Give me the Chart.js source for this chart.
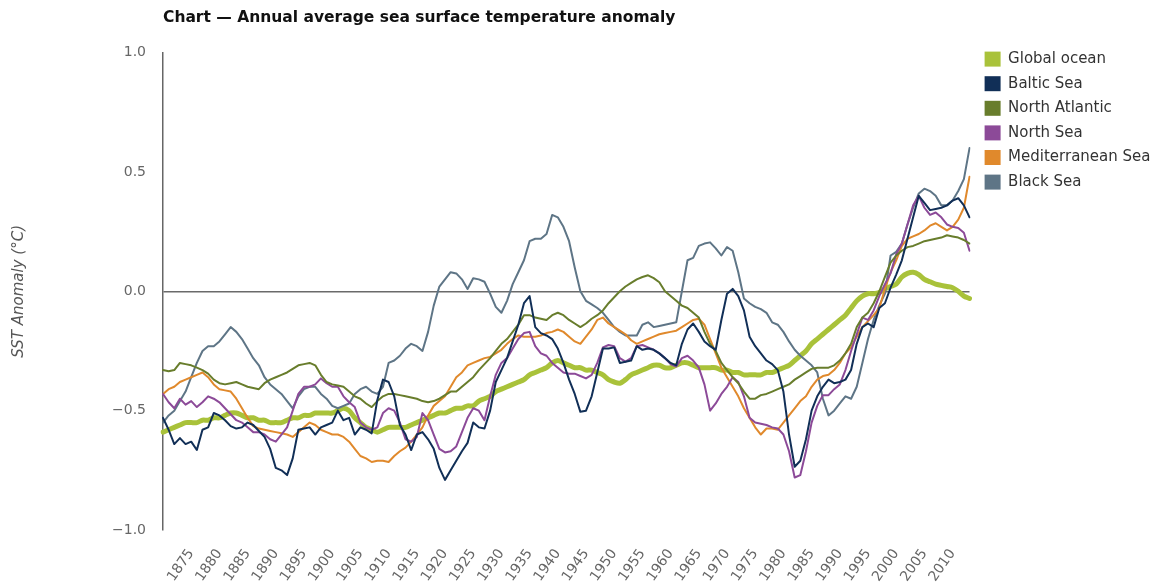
<!DOCTYPE html>
<html><head><meta charset="utf-8">
<script src="https://cdn.jsdelivr.net/npm/chart.js@4.4.0/dist/chart.umd.min.js"></script>
<style>html,body{margin:0;padding:0;background:#fff;}#wrap{position:relative;width:1157px;height:587px;}</style>
</head><body><div id="wrap"><canvas id="c" width="1157" height="587"></canvas></div>
<script>
const years = [1870,1871,1872,1873,1874,1875,1876,1877,1878,1879,1880,1881,1882,1883,1884,1885,1886,1887,1888,1889,1890,1891,1892,1893,1894,1895,1896,1897,1898,1899,1900,1901,1902,1903,1904,1905,1906,1907,1908,1909,1910,1911,1912,1913,1914,1915,1916,1917,1918,1919,1920,1921,1922,1923,1924,1925,1926,1927,1928,1929,1930,1931,1932,1933,1934,1935,1936,1937,1938,1939,1940,1941,1942,1943,1944,1945,1946,1947,1948,1949,1950,1951,1952,1953,1954,1955,1956,1957,1958,1959,1960,1961,1962,1963,1964,1965,1966,1967,1968,1969,1970,1971,1972,1973,1974,1975,1976,1977,1978,1979,1980,1981,1982,1983,1984,1985,1986,1987,1988,1989,1990,1991,1992,1993,1994,1995,1996,1997,1998,1999,2000,2001,2002,2003,2004,2005,2006,2007,2008,2009,2010,2011,2012,2013];

const globalOcean = [-0.59,-0.58,-0.57,-0.56,-0.55,-0.55,-0.55,-0.54,-0.54,-0.53,
-0.53,-0.52,-0.51,-0.51,-0.52,-0.53,-0.53,-0.54,-0.54,-0.55,
-0.55,-0.55,-0.54,-0.53,-0.53,-0.52,-0.52,-0.51,-0.51,-0.51,
-0.51,-0.50,-0.49,-0.50,-0.53,-0.55,-0.57,-0.58,-0.59,-0.58,
-0.57,-0.57,-0.57,-0.57,-0.56,-0.55,-0.54,-0.53,-0.52,-0.51,
-0.51,-0.50,-0.49,-0.49,-0.48,-0.48,-0.46,-0.45,-0.44,-0.42,
-0.41,-0.40,-0.39,-0.38,-0.37,-0.35,-0.34,-0.33,-0.32,-0.30,
-0.29,-0.30,-0.31,-0.32,-0.32,-0.33,-0.33,-0.34,-0.35,-0.37,
-0.38,-0.385,-0.37,-0.35,-0.34,-0.33,-0.32,-0.31,-0.31,-0.32,
-0.32,-0.31,-0.30,-0.30,-0.31,-0.32,-0.32,-0.32,-0.32,-0.33,
-0.33,-0.34,-0.34,-0.35,-0.35,-0.35,-0.35,-0.34,-0.34,-0.33,
-0.32,-0.31,-0.29,-0.27,-0.25,-0.22,-0.20,-0.18,-0.16,-0.14,
-0.12,-0.10,-0.07,-0.04,-0.02,-0.01,-0.01,-0.005,0.01,0.02,
0.03,0.06,0.075,0.08,0.07,0.05,0.04,0.03,0.025,0.02,
0.015,0.0,-0.02,-0.03];

const balticSea = [-0.53,-0.58,-0.64,-0.615,-0.64,-0.63,-0.665,-0.58,-0.57,-0.51,
-0.52,-0.54,-0.565,-0.575,-0.57,-0.55,-0.56,-0.585,-0.61,-0.66,
-0.74,-0.75,-0.77,-0.70,-0.58,-0.575,-0.57,-0.60,-0.57,-0.56,
-0.55,-0.50,-0.54,-0.53,-0.60,-0.57,-0.58,-0.595,-0.455,-0.37,
-0.38,-0.44,-0.56,-0.60,-0.665,-0.60,-0.59,-0.62,-0.66,-0.74,
-0.79,-0.75,-0.71,-0.67,-0.635,-0.55,-0.57,-0.575,-0.50,-0.38,
-0.33,-0.28,-0.21,-0.14,-0.05,-0.02,-0.15,-0.175,-0.185,-0.20,
-0.24,-0.30,-0.37,-0.43,-0.505,-0.50,-0.44,-0.34,-0.24,-0.24,
-0.235,-0.30,-0.295,-0.29,-0.23,-0.245,-0.24,-0.245,-0.26,-0.28,
-0.30,-0.31,-0.22,-0.16,-0.135,-0.17,-0.21,-0.23,-0.245,-0.12,
-0.01,0.01,-0.02,-0.08,-0.19,-0.23,-0.26,-0.29,-0.305,-0.33,
-0.42,-0.60,-0.735,-0.71,-0.62,-0.50,-0.44,-0.40,-0.37,-0.385,
-0.38,-0.37,-0.33,-0.22,-0.15,-0.135,-0.15,-0.07,-0.05,0.015,
0.07,0.13,0.22,0.31,0.40,0.37,0.34,0.345,0.35,0.36,
0.38,0.39,0.36,0.31];

const northAtlantic = [-0.33,-0.335,-0.33,-0.30,-0.305,-0.31,-0.32,-0.33,-0.345,-0.37,
-0.385,-0.39,-0.385,-0.38,-0.39,-0.40,-0.405,-0.41,-0.385,-0.37,
-0.36,-0.35,-0.34,-0.325,-0.31,-0.305,-0.30,-0.31,-0.35,-0.38,
-0.39,-0.395,-0.40,-0.42,-0.44,-0.45,-0.47,-0.485,-0.46,-0.44,
-0.43,-0.43,-0.435,-0.44,-0.445,-0.45,-0.46,-0.465,-0.46,-0.45,
-0.435,-0.42,-0.42,-0.40,-0.38,-0.36,-0.33,-0.305,-0.28,-0.25,
-0.22,-0.20,-0.17,-0.14,-0.10,-0.10,-0.11,-0.115,-0.12,-0.10,
-0.09,-0.10,-0.12,-0.135,-0.15,-0.135,-0.115,-0.10,-0.08,-0.05,
-0.025,0.0,0.02,0.035,0.05,0.06,0.067,0.055,0.038,0.0,
-0.02,-0.04,-0.06,-0.07,-0.09,-0.11,-0.17,-0.22,-0.25,-0.30,
-0.33,-0.36,-0.385,-0.42,-0.45,-0.45,-0.435,-0.43,-0.42,-0.41,
-0.40,-0.39,-0.37,-0.355,-0.34,-0.325,-0.32,-0.32,-0.32,-0.31,
-0.29,-0.26,-0.22,-0.15,-0.11,-0.09,-0.05,0.0,0.06,0.12,
0.15,0.17,0.185,0.19,0.20,0.21,0.215,0.22,0.225,0.235,
0.23,0.225,0.215,0.20];

const northSea = [-0.43,-0.465,-0.49,-0.45,-0.475,-0.46,-0.485,-0.465,-0.44,-0.45,
-0.465,-0.49,-0.515,-0.54,-0.55,-0.57,-0.59,-0.59,-0.60,-0.62,
-0.63,-0.60,-0.57,-0.50,-0.43,-0.40,-0.40,-0.39,-0.365,-0.385,
-0.40,-0.40,-0.44,-0.465,-0.485,-0.55,-0.57,-0.58,-0.57,-0.51,
-0.49,-0.50,-0.55,-0.62,-0.63,-0.61,-0.51,-0.54,-0.60,-0.66,
-0.675,-0.67,-0.65,-0.59,-0.53,-0.49,-0.50,-0.54,-0.44,-0.35,
-0.30,-0.28,-0.24,-0.20,-0.175,-0.17,-0.23,-0.26,-0.27,-0.30,
-0.32,-0.34,-0.345,-0.345,-0.355,-0.365,-0.35,-0.30,-0.235,-0.225,
-0.23,-0.28,-0.295,-0.28,-0.23,-0.225,-0.235,-0.245,-0.26,-0.28,
-0.305,-0.315,-0.28,-0.27,-0.29,-0.32,-0.39,-0.50,-0.47,-0.43,
-0.40,-0.36,-0.38,-0.44,-0.53,-0.55,-0.555,-0.56,-0.57,-0.575,
-0.60,-0.67,-0.78,-0.77,-0.67,-0.55,-0.48,-0.435,-0.435,-0.41,
-0.39,-0.33,-0.25,-0.18,-0.11,-0.12,-0.08,-0.02,0.03,0.075,
0.155,0.20,0.28,0.36,0.40,0.35,0.32,0.33,0.31,0.28,
0.27,0.265,0.245,0.17];

const mediterraneanSea = [-0.43,-0.41,-0.40,-0.38,-0.37,-0.36,-0.35,-0.34,-0.36,-0.39,
-0.41,-0.415,-0.42,-0.45,-0.49,-0.53,-0.565,-0.575,-0.58,-0.585,
-0.59,-0.595,-0.60,-0.61,-0.59,-0.57,-0.55,-0.56,-0.58,-0.59,
-0.60,-0.60,-0.61,-0.63,-0.66,-0.69,-0.70,-0.715,-0.71,-0.71,
-0.715,-0.69,-0.67,-0.655,-0.63,-0.60,-0.57,-0.52,-0.48,-0.46,
-0.44,-0.40,-0.36,-0.34,-0.31,-0.30,-0.29,-0.28,-0.275,-0.26,
-0.245,-0.22,-0.20,-0.185,-0.19,-0.19,-0.19,-0.185,-0.175,-0.17,
-0.16,-0.17,-0.19,-0.21,-0.22,-0.19,-0.16,-0.12,-0.11,-0.135,
-0.15,-0.165,-0.18,-0.205,-0.22,-0.21,-0.20,-0.19,-0.18,-0.175,
-0.17,-0.165,-0.15,-0.135,-0.12,-0.115,-0.14,-0.20,-0.26,-0.32,
-0.36,-0.40,-0.44,-0.49,-0.53,-0.57,-0.60,-0.575,-0.575,-0.58,
-0.55,-0.52,-0.49,-0.46,-0.44,-0.40,-0.37,-0.355,-0.35,-0.33,
-0.30,-0.26,-0.235,-0.19,-0.15,-0.125,-0.10,-0.07,0.01,0.08,
0.13,0.19,0.22,0.23,0.24,0.255,0.275,0.285,0.27,0.255,
0.27,0.30,0.35,0.48];

const blackSea = [-0.55,-0.52,-0.50,-0.46,-0.42,-0.36,-0.30,-0.25,-0.23,-0.23,
-0.21,-0.18,-0.15,-0.17,-0.20,-0.24,-0.28,-0.31,-0.36,-0.39,
-0.41,-0.43,-0.46,-0.49,-0.44,-0.41,-0.40,-0.40,-0.43,-0.45,
-0.48,-0.49,-0.48,-0.47,-0.43,-0.41,-0.40,-0.42,-0.43,-0.40,
-0.30,-0.29,-0.27,-0.24,-0.22,-0.23,-0.25,-0.17,-0.06,0.02,
0.05,0.08,0.075,0.05,0.01,0.055,0.05,0.04,-0.01,-0.065,
-0.09,-0.04,0.03,0.08,0.13,0.21,0.22,0.22,0.24,0.32,
0.31,0.27,0.21,0.10,0.0,-0.04,-0.055,-0.07,-0.09,-0.12,
-0.15,-0.17,-0.185,-0.185,-0.185,-0.14,-0.13,-0.15,-0.145,-0.14,
-0.135,-0.13,0.0,0.13,0.14,0.19,0.20,0.205,0.18,0.15,
0.185,0.17,0.08,-0.03,-0.05,-0.065,-0.075,-0.09,-0.13,-0.14,
-0.17,-0.21,-0.245,-0.27,-0.29,-0.31,-0.34,-0.45,-0.52,-0.50,
-0.47,-0.44,-0.45,-0.40,-0.30,-0.20,-0.12,-0.06,-0.01,0.15,
0.165,0.20,0.28,0.35,0.41,0.43,0.42,0.40,0.36,0.36,
0.38,0.42,0.47,0.60];

const seriesNames = ['Global ocean','Baltic Sea','North Atlantic','North Sea','Mediterranean Sea','Black Sea'];
const seriesColors = ['#a9c23a','#112f57','#687d2c','#8c4a98','#e0892c','#5e7586'];
const yTicks = [-1.0,-0.5,0.0,0.5,1.0];
const titleText = 'Chart \u2014 Annual average sea surface temperature anomaly';
const yTitle = 'SST Anomaly (\u00B0C)';

Chart.defaults.font.family = "'DejaVu Sans', Verdana, sans-serif";

const seriesData = [globalOcean, balticSea, northAtlantic, northSea, mediterraneanSea, blackSea];
const datasets = seriesData.map((d,i) => ({
  label: seriesNames[i],
  data: d,
  borderColor: seriesColors[i],
  backgroundColor: seriesColors[i],
  borderWidth: i === 0 ? 5 : 2,
  pointRadius: 0,
  tension: i === 0 ? 0.3 : 0,
  borderJoinStyle: 'round',
  borderCapStyle: 'round',
  order: i === 0 ? 1 : 0
}));

const posPlugin = {
  id: 'pos',
  afterLayout(chart) {
    if (chart.titleBlock) chart.titleBlock.left = chart.chartArea.left;
    if (chart.legend) { chart.legend.left = 975; chart.legend.top = 42; }
  }
};

new Chart(document.getElementById('c'), {
  type: 'line',
  data: { labels: years, datasets },
  plugins: [posPlugin],
  options: {
    responsive: false,
    animation: false,
    layout: { padding: { right: 2 } },
    plugins: {
      tooltip: { enabled: false },
      title: {
        display: true, text: titleText, align: 'start', color: '#111',
        font: { size: 15.5, weight: 'bold' },
        padding: { top: 9, bottom: 25 }
      },
      legend: {
        position: 'right', align: 'start',
        labels: {
          boxWidth: 16, boxHeight: 15, padding: 9.6, color: '#333',
          font: { size: 15 },
          sort: (a, b) => a.datasetIndex - b.datasetIndex,
          generateLabels(chart) {
            return chart.data.datasets.map((ds, i) => ({
              text: ds.label, fillStyle: ds.borderColor, strokeStyle: ds.borderColor,
              lineWidth: 0, hidden: false, datasetIndex: i, fontColor: '#333'
            }));
          }
        }
      }
    },
    scales: {
      x: {
        type: 'category',
        grid: { display: false },
        border: { display: false },
        ticks: {
          autoSkip: false, maxRotation: 55, minRotation: 55, color: '#666',
          font: { size: 14 }, padding: 8,
          callback(v) { const y = Number(this.getLabelForValue(v)); return (y % 5 === 0 && y > 1870) ? String(y) : ''; }
        },
        afterFit(s) { s.height = 57; }
      },
      y: {
        min: -1, max: 1,
        afterBuildTicks(s) { s.ticks = yTicks.map(v => ({ value: v })); },
        ticks: {
          color: '#666', font: { size: 14 }, padding: 17,
          callback: v => (v < 0 ? '\u2212' : '') + Math.abs(v).toFixed(1)
        },
        grid: {
          drawTicks: false, lineWidth: 1.5,
          color: ctx => (ctx.tick && ctx.tick.value === 0) ? '#6a6a6a' : 'rgba(0,0,0,0)'
        },
        border: { display: true, color: '#666', width: 1.5 },
        title: {
          display: true, text: yTitle, color: '#555',
          font: { style: 'italic', size: 15 }, padding: { top: 10, bottom: 0 }
        },
        afterFit(s) { s.width = 163; }
      }
    }
  }
});
</script></body></html>
